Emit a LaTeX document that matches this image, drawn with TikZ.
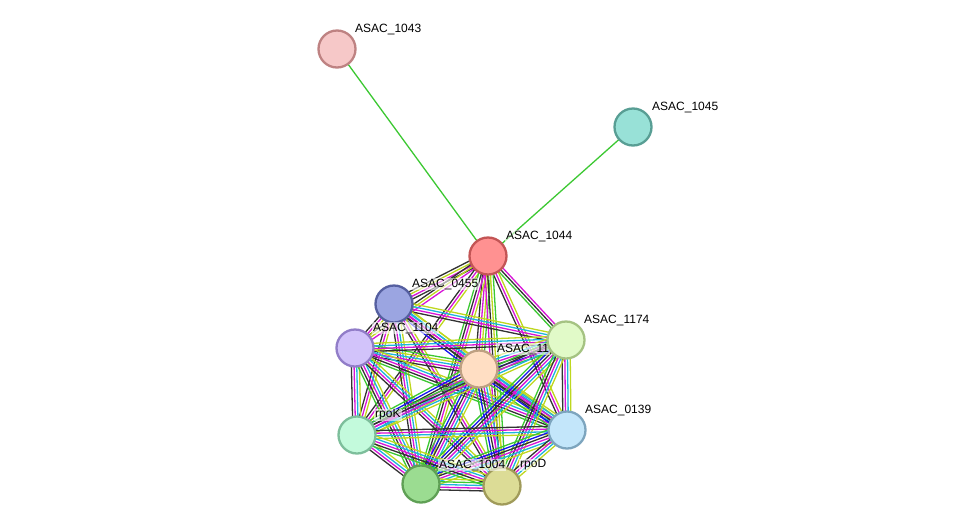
\documentclass[tikz,border=0pt]{standalone}
\usepackage{fontspec}
\setmainfont{Liberation Sans}
\usetikzlibrary{calc}
\definecolor{cG}{RGB}{60,200,50}
\definecolor{cB}{RGB}{20,20,240}
\definecolor{cK}{RGB}{50,50,50}
\definecolor{cM}{RGB}{215,20,215}
\definecolor{cC}{RGB}{30,180,220}
\definecolor{cY}{RGB}{190,215,30}
\definecolor{f1043}{RGB}{246,200,200}\definecolor{b1043}{RGB}{190,130,130}
\definecolor{f1045}{RGB}{152,225,215}\definecolor{b1045}{RGB}{88,158,148}
\definecolor{f1044}{RGB}{255,145,145}\definecolor{b1044}{RGB}{195,85,85}
\definecolor{f0455}{RGB}{155,165,225}\definecolor{b0455}{RGB}{85,95,160}
\definecolor{f1104}{RGB}{210,195,250}\definecolor{b1104}{RGB}{145,125,200}
\definecolor{f11}{RGB}{255,222,195}\definecolor{b11}{RGB}{190,160,130}
\definecolor{f1174}{RGB}{225,250,200}\definecolor{b1174}{RGB}{165,195,130}
\definecolor{f0139}{RGB}{195,230,250}\definecolor{b0139}{RGB}{125,165,190}
\definecolor{frpoK}{RGB}{195,250,220}\definecolor{brpoK}{RGB}{125,190,155}
\definecolor{frpoD}{RGB}{220,220,150}\definecolor{brpoD}{RGB}{160,155,90}
\definecolor{f1004}{RGB}{155,220,145}\definecolor{b1004}{RGB}{95,160,85}
\tikzset{
  edgeline/.style={line width=1.3pt},
  nd/.style={circle,minimum size=37pt,inner sep=0pt,line width=2.3pt,fill=f#1,draw=b#1},
  lab/.style={anchor=west,inner sep=1pt,font=\fontsize{12}{14}\selectfont,fill=white,fill opacity=0.6,text opacity=1}
}
\newcommand\bundle[3]{%
  \foreach \c [count=\i] in {#3} {\xdef\bn{\i}}%
  \foreach \c [count=\i] in {#3} {%
    \pgfmathsetmacro\off{(\i-(\bn+1)/2)*2.7}%
    \draw[edgeline,draw=\c] ($(#1)!\off pt!90:(#2)$) -- ($(#2)!\off pt!-90:(#1)$);
  }}
\begin{document}
\begin{tikzpicture}[x=1pt,y=-1pt]
\useasboundingbox (0,0) rectangle (975,531);
\coordinate (A) at (488,256);
\coordinate (P0) at (394,304);
\coordinate (P1) at (355,348);
\coordinate (X) at (479,369);
\coordinate (L) at (566,340);
\coordinate (Q) at (567,430);
\coordinate (R) at (357,435);
\coordinate (F) at (421,484);
\coordinate (D) at (502,486);
\coordinate (N43) at (337,49);
\coordinate (N45) at (633,127);
% edges
\bundle{A}{N43}{cG}
\bundle{A}{N45}{cG}
\bundle{A}{P0}{cK,cY,cM,cK}
\bundle{A}{P1}{cK,cY,cM}
\bundle{A}{X}{cK,cM,cY,cG}
\bundle{A}{L}{cG,cK,cM}
\bundle{A}{Q}{cK,cM,cY}
\bundle{A}{R}{cK,cM,cY}
\bundle{A}{F}{cG,cK,cM,cY}
\bundle{A}{D}{cM,cK,cY,cG}
\bundle{P0}{P1}{cK,cM,cY}
\bundle{P0}{X}{cB,cK,cM,cC,cY}
\bundle{P0}{L}{cK,cM,cC,cY}
\bundle{P0}{Q}{cK,cM,cC,cY}
\bundle{P0}{R}{cK,cM,cY}
\bundle{P0}{F}{cK,cM,cC,cY}
\bundle{P0}{D}{cK,cM,cY}
\bundle{P1}{X}{cK,cM,cC,cY,cG}
\bundle{P1}{L}{cK,cM,cC,cY}
\bundle{P1}{Q}{cG,cK,cM,cC,cY}
\bundle{P1}{R}{cK,cM,cC,cY}
\bundle{P1}{F}{cG,cK,cM,cC,cY}
\bundle{P1}{D}{cK,cM,cC,cY}
\bundle{X}{L}{cG,cB,cK,cM,cC,cY}
\bundle{X}{Q}{cG,cB,cK,cM,cC,cY}
\bundle{X}{R}{cG,cB,cK,cM,cC,cY}
\bundle{X}{F}{cG,cB,cK,cM,cC,cY}
\bundle{X}{D}{cG,cB,cK,cM,cC,cY}
\bundle{L}{Q}{cK,cM,cC,cY}
\bundle{L}{R}{cG,cK,cM,cC,cY}
\bundle{L}{F}{cG,cB,cK,cM,cC,cY}
\bundle{L}{D}{cG,cK,cM,cC,cY}
\bundle{Q}{R}{cK,cM,cC,cY}
\bundle{Q}{F}{cG,cB,cK,cM,cC,cY}
\bundle{Q}{D}{cK,cM,cC,cY}
\bundle{R}{F}{cK,cM,cC,cY}
\bundle{R}{D}{cG,cK,cM,cC,cY}
\bundle{F}{D}{cK,cM,cC,cG,cY}
% nodes and labels
\node[nd=1043] (n1043) at (N43) {};
\node[lab] (l1043) at (354,29) {ASAC\_1043};
\node[nd=1045] (n1045) at (N45) {};
\node[lab] (l1045) at (651,107) {ASAC\_1045};
\node[nd=1044] (n1044) at (A) {};
\node[lab] (l1044) at (505,236) {ASAC\_1044};
\node[nd=0455] (n0455) at (P0) {};
\node[lab] (l0455) at (411,284) {ASAC\_0455};
\node[nd=1104] (n1104) at (P1) {};
\node[lab] (l1104) at (372,328) {ASAC\_1104};
\node[nd=11] (n11) at (X) {};
\node[lab] (l11) at (496,349) {ASAC\_11};
\node[nd=1174] (n1174) at (L) {};
\node[lab] (l1174) at (583,320) {ASAC\_1174};
\node[nd=0139] (n0139) at (Q) {};
\node[lab] (l0139) at (584,410) {ASAC\_0139};
\node[nd=rpoK] (nrpoK) at (R) {};
\node[lab] (lrpoK) at (374,415) {rpoK};
\node[nd=rpoD] (nrpoD) at (D) {};
\node[lab] (lrpoD) at (519,465) {rpoD};
\node[nd=1004] (n1004) at (F) {};
\node[lab] (l1004) at (438,465) {ASAC\_1004};
\end{tikzpicture}
\end{document}
